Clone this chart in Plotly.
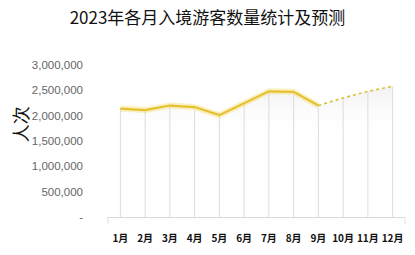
import plotly.graph_objects as go

months = ["1月", "2月", "3月", "4月", "5月", "6月", "7月", "8月", "9月", "10月", "11月", "12月"]
actual = [2140000, 2110000, 2200000, 2170000, 2010000, 2240000, 2480000, 2470000, 2200000, None, None, None]
forecast = [None, None, None, None, None, None, None, None, 2200000, 2350000, 2480000, 2580000]
all_vals = [2140000, 2110000, 2200000, 2170000, 2010000, 2240000, 2480000, 2470000, 2200000, 2350000, 2480000, 2580000]
ytick_vals = [0, 500000, 1000000, 1500000, 2000000, 2500000, 3000000]
ytick_text = ["-", "500,000", "1,000,000", "1,500,000", "2,000,000", "2,500,000", "3,000,000"]

fig = go.Figure()

# soft gradient area under line
fig.add_trace(go.Scatter(
    x=months, y=all_vals, mode="lines", line=dict(width=0, color="rgba(0,0,0,0)"),
    fill="tozeroy",
    fillgradient=dict(type="vertical",
                      colorscale=[[0, "rgba(255,255,255,0)"], [0.6, "rgba(255,255,255,0)"], [1, "rgba(228,228,228,0.5)"]]),
    hoverinfo="skip", showlegend=False))

# drop lines from zero to value
fig.add_trace(go.Scatter(
    x=months, y=[0] * len(months), mode="markers", marker=dict(size=0.1, color="rgba(0,0,0,0)"),
    error_y=dict(type="data", symmetric=False, array=all_vals, arrayminus=[0] * len(months),
                 color="#dcdcdc", thickness=1, width=0),
    hoverinfo="skip", showlegend=False))

# glow
fig.add_trace(go.Scatter(x=months, y=actual, mode="lines",
                         line=dict(color="rgba(240,215,90,0.35)", width=6), showlegend=False, hoverinfo="skip"))
fig.add_trace(go.Scatter(x=months, y=actual, mode="lines",
                         line=dict(color="#E6C12E", width=2.2), showlegend=False))
fig.add_trace(go.Scatter(x=months, y=forecast, mode="lines",
                         line=dict(color="#D9C23A", width=1.6, dash="dot"), showlegend=False))

fig.update_layout(
    width=415, height=255,
    margin=dict(l=108, r=10, t=65, b=35),
    paper_bgcolor="white", plot_bgcolor="white",
    title=dict(text="2023年各月入境游客数量统计及预测", x=0.5, xanchor="center", y=0.93, yanchor="middle",
               font=dict(family="Noto Sans CJK SC", size=17, color="#111")),
    xaxis=dict(type="category", range=[-0.5, 11.5], showgrid=False, zeroline=False,
               showline=True, linecolor="#d9d9d9", linewidth=1, tickangle=0,
               ticks="", ticklabelstandoff=12,
               tickfont=dict(family="Noto Sans CJK SC", size=10, color="#111", weight="bold")),
    yaxis=dict(range=[0, 3000000], showgrid=False, zeroline=False, showline=False,
               tickvals=ytick_vals, ticktext=ytick_text,
               ticks="", ticklabelstandoff=24,
               tickfont=dict(family="Liberation Sans", size=11.5, color="#666")),
    annotations=[dict(text="人次", xref="paper", yref="paper", x=-0.296, y=0.61,
                      xanchor="center", yanchor="middle",
                      textangle=-90, showarrow=False,
                      font=dict(family="Noto Sans CJK SC", size=18, color="#111"))],
    shapes=[
        dict(type="line", xref="paper", yref="paper", x0=0, x1=0, y0=0, y1=-0.05, line=dict(color="#e0e0e0", width=1)),
        dict(type="line", xref="paper", yref="paper", x0=1, x1=1, y0=0, y1=-0.05, line=dict(color="#e0e0e0", width=1)),
    ],
)

fig.write_html("out.html")
